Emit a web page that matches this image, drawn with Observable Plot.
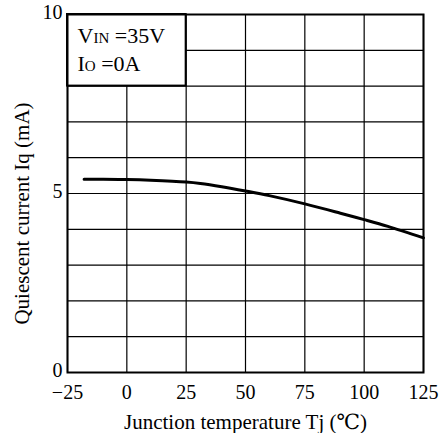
<!DOCTYPE html>
<html>
<head>
<meta charset="utf-8">
<script src="https://cdn.jsdelivr.net/npm/d3@7"></script>
<script src="https://cdn.jsdelivr.net/npm/@observablehq/plot@0.6"></script>
<style>
  html, body { margin: 0; padding: 0; background: #fff; }
  #chart { width: 447px; height: 433px; }
</style>
</head>
<body>
<div id="chart"></div>
<script>
// Data
const tempC = [-18, -10, 0, 10, 25, 31, 40, 50, 60, 75, 90, 100, 110, 125];
const iqmA  = [5.40, 5.40, 5.39, 5.37, 5.32, 5.28, 5.19, 5.07, 4.94, 4.71, 4.45, 4.27, 4.08, 3.76];

const xTicks = [-25, 0, 25, 50, 75, 100, 125];
const yTickLabels = [0, 5, 10];
const yGrid = [0, 1, 2, 3, 4, 5, 6, 7, 8, 9, 10];

const condMain = ["V", "I"];
const condSub = ["IN", "O"];
const condRest = [" =35V", " =0A"];

// legend box spans the first two grid cells at top-left
const boxX = [xTicks[0], xTicks[2]];
const boxY = [yGrid[8], yGrid[10]];

const xLabel = "Junction temperature Tj (℃)";
const yLabel = "Quiescent current Iq (mA)";

const data = tempC.map((t, i) => ({t, iq: iqmA[i]}));
const condLines = condMain.map((m, i) => m + condSub[i] + condRest[i]);

const serif = "'Liberation Serif', 'DejaVu Serif', serif";

const chart = Plot.plot({
  width: 447,
  height: 433,
  marginLeft: 67,
  marginRight: 24,
  marginTop: 14,
  marginBottom: 61,
  style: {fontFamily: serif, fontSize: "20px", color: "#000", background: "#fff", overflow: "visible"},
  x: {domain: [-25, 125]},
  y: {domain: [0, 10]},
  marks: [
    Plot.gridX(xTicks, {stroke: "#000", strokeOpacity: 1, strokeWidth: 1.2}),
    Plot.gridY(yGrid, {stroke: "#000", strokeOpacity: 1, strokeWidth: 1.2}),
    Plot.rect([0], {x1: () => boxX[0], x2: () => boxX[1], y1: () => boxY[0], y2: () => boxY[1], fill: "#fff", stroke: "#000", strokeWidth: 2}),
    Plot.text([condLines.join("\n")], {
      text: d => d, frameAnchor: "top-left", textAnchor: "start", lineAnchor: "top",
      dx: 10, dy: 8, lineHeight: 1.3, fontSize: 22, fill: "#000"
    }),
    Plot.line(data, {x: "t", y: "iq", stroke: "#000", strokeWidth: 3, curve: "catmull-rom"}),
    Plot.frame({stroke: "#000", strokeWidth: 2}),
    Plot.axisX(xTicks, {tickSize: 0, tickPadding: 12, label: null, fontSize: 20,
      tickFormat: d => d < 0 ? "−" + Math.abs(d) : String(d)}),
    Plot.axisY(yTickLabels, {tickSize: 0, tickPadding: 5, label: null, fontSize: 20, dy: -2}),
    Plot.text([xLabel], {text: d => d, frameAnchor: "bottom", textAnchor: "middle", lineAnchor: "bottom", dy: 56, fontSize: 21, fill: "#000"}),
    Plot.text([yLabel], {text: d => d, frameAnchor: "left", textAnchor: "middle", rotate: -90, lineAnchor: "middle", dx: -45, dy: 20, fontSize: 21, fill: "#000"})
  ]
});

// make the condition subscripts smaller (V_IN, I_O)
chart.querySelectorAll("text, tspan").forEach(el => {
  if (el.children.length) return;
  const idx = condLines.indexOf(el.textContent);
  if (idx >= 0) {
    el.innerHTML = condMain[idx] + '<tspan font-size="15">' + condSub[idx] + '</tspan>' + condRest[idx];
  }
});

document.getElementById("chart").appendChild(chart);
</script>
</body>
</html>
